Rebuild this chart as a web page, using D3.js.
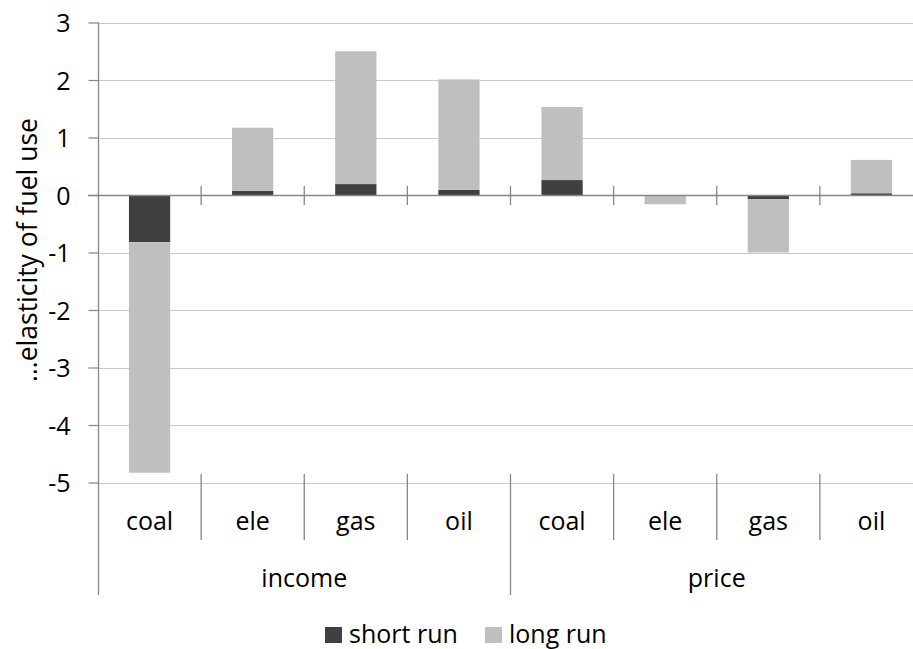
<!DOCTYPE html>
<html>
<head>
<meta charset="utf-8">
<script src="https://cdn.jsdelivr.net/npm/d3@7"></script>
<style>
  html, body { margin: 0; padding: 0; background: #fff; }
  svg { display: block; font-family: "Open Sans", "Noto Sans", sans-serif; }
</style>
</head>
<body>
<svg id="chart" width="913" height="649"></svg>
<script>
// Elasticities of fuel use by driver (income / price) and fuel
const groups = ["income", "price"];
const fuels = ["coal", "ele", "gas", "oil"];
const shortRun = [-0.82, 0.07, 0.19, 0.09, 0.26, 0.00, -0.07, 0.03];
const longRun  = [-4.01, 1.10, 2.31, 1.92, 1.27, -0.16, -0.93, 0.58];
const yTicks = [3, 2, 1, 0, -1, -2, -3, -4, -5];
const seriesNames = ["short run", "long run"];
const seriesColors = ["#404040", "#bfbfbf"];
const yTitle = "\u2026elasticity of fuel use";

const rows = [];
groups.forEach((g, gi) => fuels.forEach((f, fi) => {
  const i = gi * fuels.length + fi;
  rows.push({ key: g + "-" + f, group: g, fuel: f, "short run": shortRun[i], "long run": longRun[i] });
}));

const svg = d3.select("#chart");
const plotLeft = 98, plotRight = 923, plotTop = 22.5, plotBottom = 482.5;
const fontSize = "25px";

const x = d3.scaleBand().domain(rows.map(d => d.key)).range([plotLeft, plotRight])
  .paddingInner(0.6).paddingOuter(0.3);
const y = d3.scaleLinear().domain([-5, 3]).range([plotBottom, plotTop]);

const axisColor = "#868686";
const gridColor = "#c9c9c9";

// horizontal gridlines
svg.append("g").selectAll("line").data(yTicks.filter(t => t !== 0)).join("line")
  .attr("x1", plotLeft).attr("x2", plotRight)
  .attr("y1", d => Math.round(y(d)) + 0.5).attr("y2", d => Math.round(y(d)) + 0.5)
  .attr("stroke", gridColor).attr("stroke-width", 1.2);

// stacked bars
const stack = d3.stack().keys(seriesNames).offset(d3.stackOffsetDiverging);
const layers = stack(rows);
svg.append("g").selectAll("g").data(layers).join("g")
  .attr("fill", (d, i) => seriesColors[i])
  .selectAll("rect").data(d => d).join("rect")
  .attr("x", d => x(d.data.key))
  .attr("width", x.bandwidth())
  .attr("y", d => y(Math.max(d[0], d[1])))
  .attr("height", d => Math.abs(y(d[0]) - y(d[1])));

// y axis (plain hyphen for negatives)
const yAxis = d3.axisLeft(y).tickValues(yTicks).tickSize(10).tickFormat(d => String(d));
const gy = svg.append("g").attr("transform", `translate(${plotLeft + 0.5},0)`).call(yAxis);
gy.select(".domain").remove();
gy.selectAll(".tick line").attr("stroke", axisColor).attr("stroke-width", 1.2);
gy.selectAll(".tick text").attr("fill", "#000").style("font-size", fontSize)
  .style("font-family", "'Open Sans', sans-serif").attr("dy", "0.36em").attr("x", -28);
svg.append("line").attr("x1", plotLeft + 0.5).attr("x2", plotLeft + 0.5)
  .attr("y1", plotTop).attr("y2", 595).attr("stroke", axisColor).attr("stroke-width", 1.3);

// zero axis with crossing tick marks between categories
const y0 = Math.round(y(0)) + 0.5;
svg.append("line").attr("x1", plotLeft - 10).attr("x2", plotRight).attr("y1", y0).attr("y2", y0)
  .attr("stroke", axisColor).attr("stroke-width", 1.5);
const step = x.step();
const boundaries = d3.range(1, rows.length).map(i => plotLeft + i * step);
svg.append("g").selectAll("line").data(boundaries).join("line")
  .attr("x1", d => d).attr("x2", d => d)
  .attr("y1", y0 - 9.5).attr("y2", y0 + 9.5)
  .attr("stroke", axisColor).attr("stroke-width", 1.3);

// category labels (two levels) at the bottom
const catTop = 474, catMid = 540, catBot = 595;
svg.append("g").selectAll("line").data(boundaries).join("line")
  .attr("x1", d => d).attr("x2", d => d)
  .attr("y1", catTop).attr("y2", (d, i) => (i + 1) % fuels.length === 0 ? catBot : catMid)
  .attr("stroke", axisColor).attr("stroke-width", 1.3);
svg.append("g").selectAll("text").data(rows).join("text")
  .attr("x", d => x(d.key) + x.bandwidth() / 2).attr("y", 530)
  .attr("text-anchor", "middle").style("font-size", fontSize).attr("fill", "#000")
  .text(d => d.fuel);
svg.append("g").selectAll("text").data(groups).join("text")
  .attr("x", (d, i) => plotLeft + (i + 0.5) * fuels.length * step).attr("y", 587)
  .attr("text-anchor", "middle").style("font-size", fontSize).attr("fill", "#000")
  .text(d => d);

// y axis title
svg.append("text")
  .attr("transform", `translate(37,250) rotate(-90)`)
  .attr("text-anchor", "middle").style("font-size", "26.5px").attr("fill", "#000")
  .text(yTitle);

// legend
const legend = svg.append("g");
const legendX = [325, 485];
seriesNames.forEach((s, i) => {
  legend.append("rect").attr("x", legendX[i]).attr("y", 627).attr("width", 17).attr("height", 16)
    .attr("fill", seriesColors[i]);
  legend.append("text").attr("x", legendX[i] + 24).attr("y", 643)
    .style("font-size", fontSize).attr("fill", "#000").text(s);
});
</script>
</body>
</html>
